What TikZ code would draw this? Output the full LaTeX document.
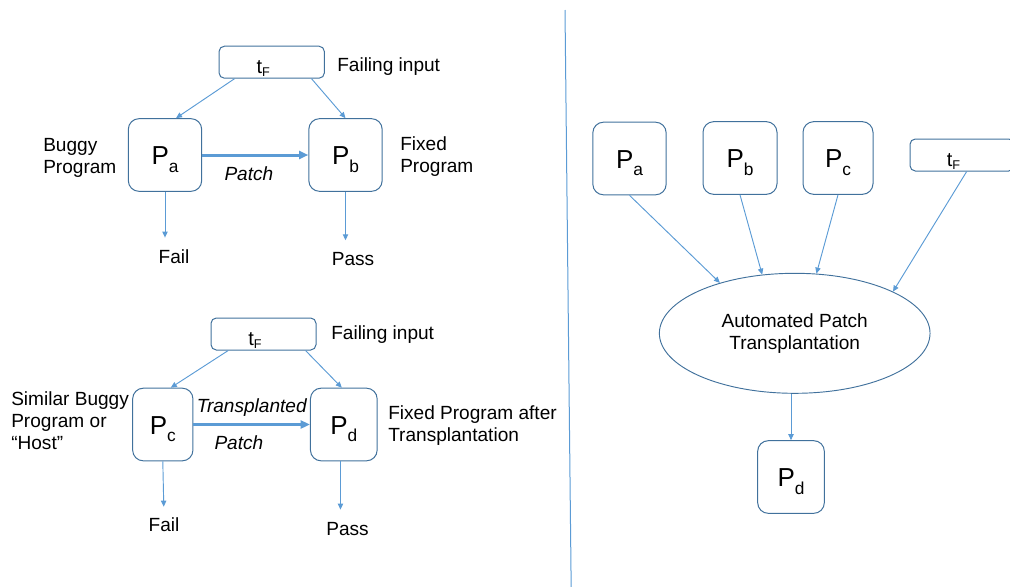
\documentclass[tikz,border=0pt]{standalone}
\usepackage{fontspec}
\setmainfont{Liberation Sans}
\usetikzlibrary{arrows.meta,shapes.geometric}

\definecolor{boxblue}{RGB}{65,113,156}
\definecolor{linkblue}{RGB}{91,155,213}

\newcommand{\progname}[1]{{\fontsize{19.5}{20}\selectfont P}\raisebox{-5.5pt}{\fontsize{13}{14}\selectfont #1}}
\newcommand{\failtest}{{\fontsize{15}{16}\selectfont t}\raisebox{-2pt}{\fontsize{9.5}{10}\selectfont F}\hspace*{12.8pt}}

\begin{document}
\begin{tikzpicture}[x=0.75pt,y=-0.75pt,
  prog/.style={draw=boxblue, line width=0.75pt, rectangle, rounded corners=8pt, minimum width=55pt, minimum height=54.5pt, inner sep=0pt, text height=20pt, text depth=5.5pt},
  input/.style={draw=boxblue, line width=0.75pt, rectangle, rounded corners=4pt, minimum width=79pt, minimum height=24pt, inner sep=0pt, text height=19pt, text depth=2pt},
  note/.style={inner sep=0pt, align=left, font=\fontsize{14.3}{16.5}\selectfont},
  patchlabel/.style={note, anchor=base, font=\fontsize{14.3}{16.5}\selectfont\itshape},
  flow/.style={draw=linkblue, line width=0.7pt, -{Triangle[length=4.5pt,width=4pt]}},
  patchflow/.style={draw=linkblue, line width=2.25pt, -{Triangle[length=7pt,width=6pt]}}]
\useasboundingbox (0,0) rectangle (1010,586);
\clip (0,0) rectangle (1010,586);

\node (tf1) [input] at (271.7,62.2) {\failtest};
\node (pa) [prog] at (165,155) {\progname{a}};
\node (pb) [prog] at (345.5,155) {\progname{b}};
\node (fail1) [note, anchor=base] at (174,263) {Fail};
\node (pass1) [note, anchor=base] at (353,265) {Pass};
\node (input1) [note, anchor=base west] at (337,71) {Failing input};
\node (buggy) [note, anchor=west] at (43,157.8) {Buggy\\Program};
\node (fixed) [note, anchor=west] at (400,156.8) {Fixed\\Program};

\draw[flow] ([xshift=12pt]tf1.south west) -- ([xshift=8.25pt]pa.north);
\draw[flow] ([xshift=-10pt]tf1.south east) -- (pb.north);
\draw[patchflow] (pa.east) -- node[patchlabel, pos=0.44, yshift=-19.3pt] {Patch} (pb.west);
\draw[flow, shorten >=8.5pt] (pa.south) -- (pa.south |- fail1.north);
\draw[flow, shorten >=8.5pt] (pb.south) -- (pb.south |- pass1.north);

\node (tf2) [input, minimum width=78.75pt] at (263.5,334) {\failtest};
\node (pc) [prog, minimum width=45.2pt] at (162.8,424.5) {\progname{c}};
\node (pd) [prog, minimum width=50pt] at (343.8,424.5) {\progname{d}};
\node (fail2) [note, anchor=base] at (164,531) {Fail};
\node (pass2) [note, anchor=base] at (347.5,535) {Pass};
\node (input2) [note, anchor=base west] at (331,339) {Failing input};
\node (host) [note, anchor=west] at (11,421.1) {Similar Buggy\\Program or\\“Host”};
\node (fixed2) [note, anchor=west] at (388,426) {Fixed Program after\\Transplantation};

\draw[flow] ([xshift=13.3pt]tf2.south west) -- ([xshift=6pt]pc.north);
\draw[flow] ([xshift=-8.25pt]tf2.south east) -- ([xshift=-1.5pt]pd.north);
\draw[patchflow] (pc.east) -- node[patchlabel, pos=0.5, yshift=8.8pt] {Transplanted} node[patchlabel, pos=0.39, yshift=-18.75pt] {Patch} (pd.west);
\draw[flow, shorten >=7.7pt] (pc.south) -- (fail2.north);
\draw[flow, shorten >=9pt] ([xshift=-2.5pt]pd.south) -- ([xshift=-2.5pt]pd.south |- pass2.north);

\draw[linkblue, line width=0.75pt] (565,10) -- (571.2,590);

\node (pa2) [prog] at (629.5,158.5) {\progname{a}};
\node (pb2) [prog, minimum width=55.5pt] at (740,158) {\progname{b}};
\node (pc2) [prog, minimum width=52.5pt] at (838,158) {\progname{c}};
\node (tf3) [input, minimum width=78pt] at (962,155) {\failtest};
\node (apt) [draw=boxblue, line width=0.7pt, ellipse, minimum width=203pt, minimum height=90pt, inner sep=0pt, align=center, font=\fontsize{14.3}{16.5}\selectfont] at (794.7,333.3) {Automated Patch\\Transplantation};
\node (pd2) [prog, minimum width=50pt] at (791,477) {\progname{d}};

\draw[flow] (pa2.south) -- (apt.146.6);
\draw[flow] (pb2.south) -- (apt.119.6);
\draw[flow] (pc2.south) -- (apt.70.5);
\draw[flow] ([xshift=3.5pt]tf3.south) -- (apt.23.6);
\draw[flow] (pd2.north |- apt.south) -- (pd2.north);
\end{tikzpicture}
\end{document}
